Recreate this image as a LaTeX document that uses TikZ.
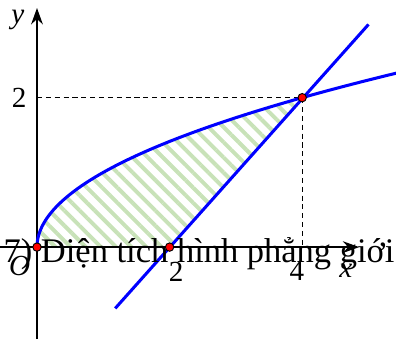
\documentclass[tikz,border=0pt]{standalone}
\usepackage{fontspec}
\setmainfont{Liberation Serif}
\usetikzlibrary{arrows.meta,patterns.meta}
\definecolor{hatchgreen}{RGB}{200,226,184}

\begin{document}
\begin{tikzpicture}[x=1cm, y=1.127cm,
  axis/.style={line width=1pt, -{Stealth[length=7pt,width=5pt]}},
  graph/.style={blue, line width=1.3pt},
  guide/.style={dashed, line width=0.5pt, dash pattern=on 2.2pt off 1.6pt},
  dot/.style={circle, draw=black, fill=red, line width=0.4pt, inner sep=0pt, minimum size=3.6pt},
  lbl/.style={font=\fontsize{12.5}{14}\selectfont}
]
\useasboundingbox (-0.558,-1.285) rectangle (5.415,3.307);

% Shaded region
\fill[pattern={Lines[angle=-45, distance=4.6pt, line width=1.7pt]}, pattern color=hatchgreen]
  plot[domain=0:2, samples=60] ({\x*\x},{\x}) -- (2,0) -- cycle;

% Guides
\draw[guide] (0,2) -- (4,2) -- (4,0);

% Axes
\draw[axis] (-0.6,0) -- (4.86,0);
\draw[axis] (0,-1.23) -- (0,3.2);

% Graphs
\draw[graph] plot[domain=0:2.4, samples=80] ({\x*\x},{\x});
\draw[graph] (1.18,-0.82) -- (5.0,2.98);

% Points
\node[dot] (O) at (0,0) {};
\node[dot] (A) at (2,0) {};
\node[dot] (B) at (4,2) {};

% Labels
\node[lbl] (ylbl) at (-0.29,3.04) {\textit{y}};
\node[lbl] (y2) at (-0.27,2.0) {2};
\node[lbl] (olbl) at (-0.26,-0.25) {\textit{O}};
\node[lbl] (x2) at (2.1,-0.33) {2};
\node[lbl] (x4) at (3.92,-0.32) {4};
\node[lbl] (xlbl) at (4.66,-0.32) {\textit{x}};

% Overlapping text
\node[anchor=base west, inner sep=0pt, font=\fontsize{14.8}{16}\selectfont] (txt) at (-0.51,-0.21)
  {7) Diện tích hình phẳng giới};
\end{tikzpicture}
\end{document}
